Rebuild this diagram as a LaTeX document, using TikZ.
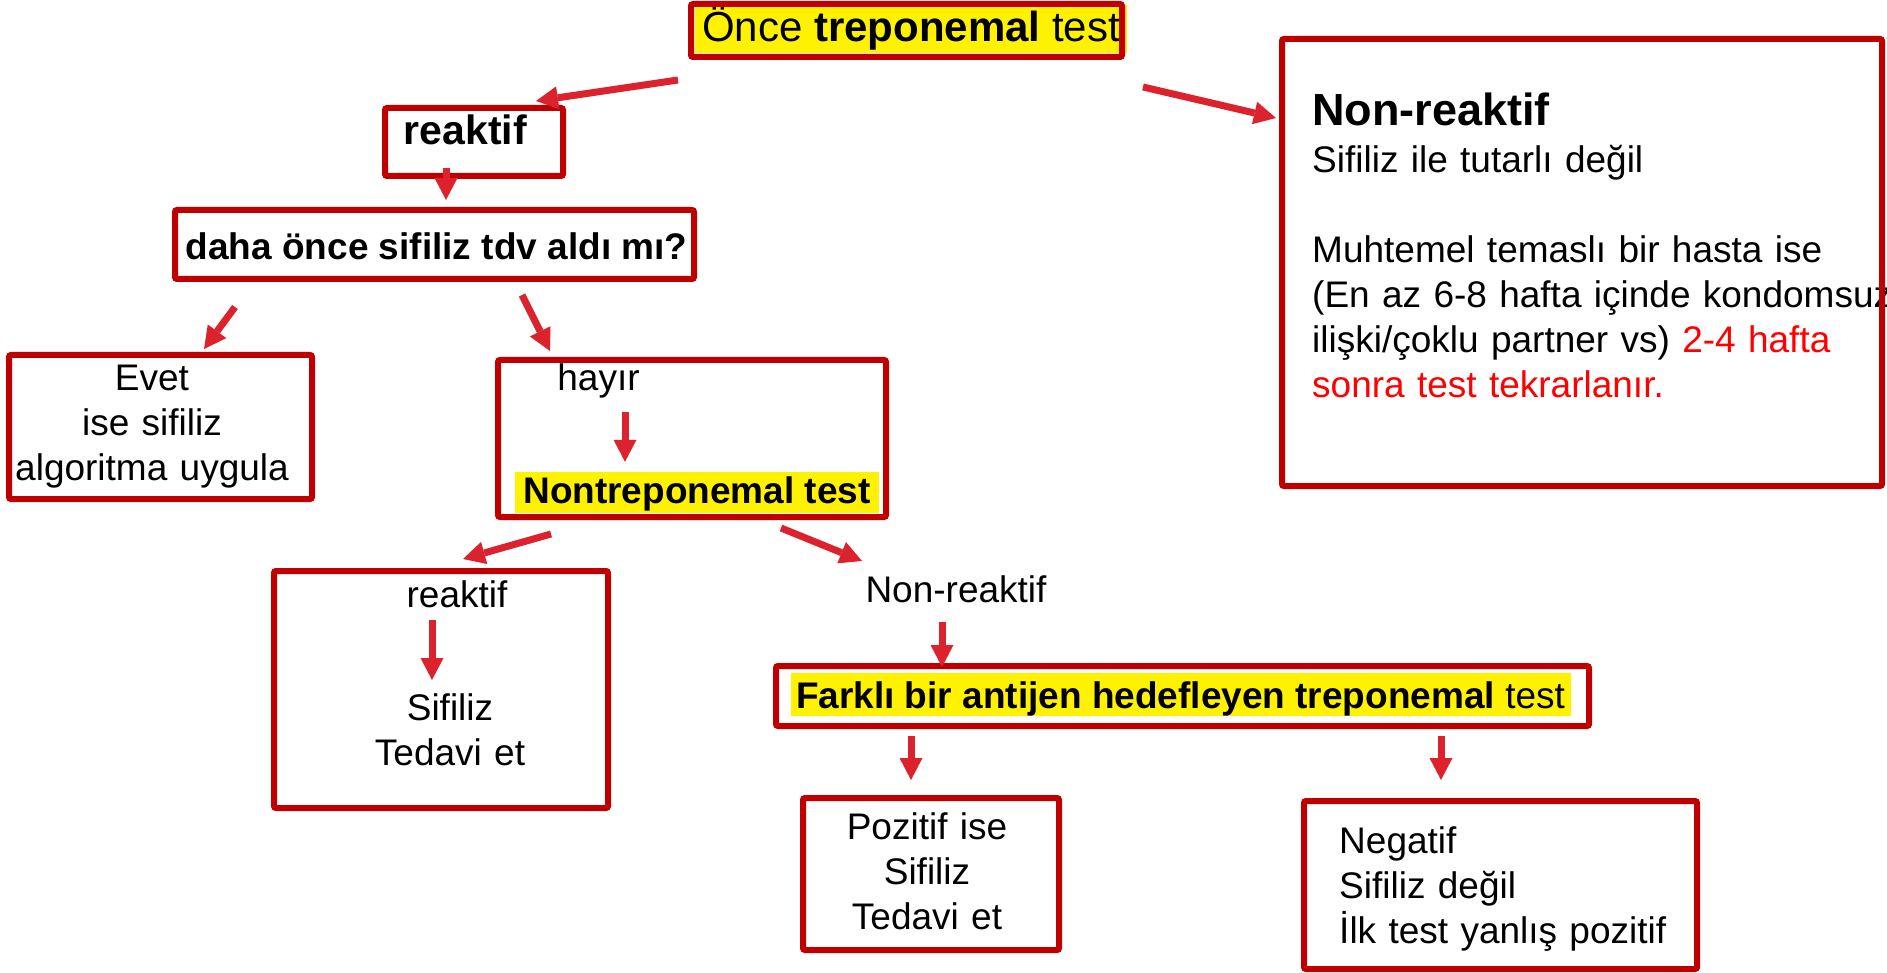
\documentclass[tikz,border=0pt]{standalone}
\usepackage{fontspec}
\setmainfont{Liberation Sans}
\usepackage{xcolor}
\usetikzlibrary{calc,arrows.meta}

\definecolor{boxred}{RGB}{192,0,0}
\definecolor{arrred}{RGB}{220,35,45}

\begin{document}
\begin{tikzpicture}[x=1pt,y=-1pt,
    box/.style={draw=boxred, line width=6pt, rounded corners=2pt, inner sep=0pt},
    arr/.style={draw=arrred, line width=7pt, -{Triangle[width=23pt,length=22pt,line width=0pt]}},
    txt/.style={inner sep=0pt, font=\fontsize{37pt}{45pt}\selectfont, text height=28pt, text depth=8pt},
    lines/.style={inner sep=0pt, font=\fontsize{37pt}{45pt}\selectfont},
    hl/.style={fill=yellow}]

    \useasboundingbox (0,0) rectangle (1887,973);

    % Texts
    \node[txt, hl, font=\fontsize{42pt}{50pt}\selectfont, text height=37pt, text depth=11pt,
      inner xsep=7.5pt, anchor=base] (toptxt) at (911,42) {Önce \textbf{treponemal} test};
    \node[txt, font=\bfseries\fontsize{41pt}{49pt}\selectfont, anchor=base] (reaktxt) at (465.5,145) {reaktif};
    \node[txt, font=\bfseries\fontsize{37pt}{45pt}\selectfont, anchor=base] (dahatxt) at (436.5,260)
      {daha önce sifiliz tdv aldı mı?};
    \node[lines, text width=300pt, align=center, anchor=base] (evettxt) at (152,390)
      {Evet\\ise sifiliz\\algoritma uygula};
    \node[txt, anchor=base] (hayirtxt) at (598.5,390) {hayır};
    \node[txt, hl, font=\bfseries\fontsize{37pt}{45pt}\selectfont, text height=31pt, text depth=10pt,
      inner xsep=8pt, anchor=base] (ntt) at (697,503) {Nontreponemal test};
    \node[txt, anchor=base] (r2a) at (457,607) {reaktif};
    \node[lines, text width=300pt, align=center, anchor=base] (r2b) at (450,720) {Sifiliz\\Tedavi et};
    \node[txt, anchor=base] (nrlbl) at (956,602) {Non-reaktif};
    \node[txt, hl, text height=35pt, text depth=8pt, inner xsep=5.5pt, anchor=base] (farktxt) at (1180.5,708)
      {\textbf{Farklı bir antijen hedefleyen treponemal} test};
    \node[lines, text width=250pt, align=center, anchor=base] (poztxt) at (927,839)
      {Pozitif ise\\Sifiliz\\Tedavi et};
    \node[lines, text width=360pt, align=left, anchor=base west] (negtxt) at (1339,853)
      {Negatif\\Sifiliz değil\\İlk test yanlış pozitif};
    \node[txt, font=\bfseries\fontsize{45pt}{54pt}\selectfont, anchor=base west] (nrhead) at (1312,126) {Non-reaktif};
    \node[lines, text width=600pt, align=left, anchor=base west] (nrbody) at (1312,173)
      {Sifiliz ile tutarlı değil\\[45pt]Muhtemel temaslı bir hasta ise\\(En az 6-8 hafta içinde kondomsuz\\%
       ilişki/çoklu partner vs) \textcolor{red}{2-4 hafta}\\\textcolor{red}{sonra test tekrarlanır.}};

    % Boxes
    \node[box, minimum width=431pt, minimum height=53pt] (top) at (906.5,30.5) {};
    \node[box, minimum width=178pt, minimum height=68pt] (reak) at (474,142) {};
    \node[box, minimum width=519pt, minimum height=69pt] (daha) at (434.5,244.5) {};
    \node[box, minimum width=303pt, minimum height=144pt] (evet) at (160.5,427) {};
    \node[box, minimum width=388pt, minimum height=157pt] (hayir) at (692,438.5) {};
    \node[box, minimum width=334pt, minimum height=237pt] (reak2) at (441,689.5) {};
    \node[box, minimum width=813pt, minimum height=60pt] (farkli) at (1182.5,696) {};
    \node[box, minimum width=256pt, minimum height=152pt] (poz) at (931,874) {};
    \node[box, minimum width=393pt, minimum height=168pt] (neg) at (1500.5,885) {};
    \node[box, minimum width=600pt, minimum height=447pt] (nonr) at (1582,262.5) {};

    % Arrows
    \draw[arr] ($(top.south west)+(-10,20)$) -- ($(reak.north east)+(-30,-4)$);
    \draw[arr] ($(top.south east)+(18,27)$) -- ($(nonr.north west)+(-3,82)$);
    \draw[arr] ($(reak.south)+(-28,-11)$) -- ($(daha.north)+(11.5,-7)$);
    \draw[arr] ($(daha.south west)+(63,25)$) -- ($(evet.north)+(43.5,-3)$);
    \draw[arr] ($(daha.south)+(87.5,13)$) -- ($(hayir.north west)+(55,-6)$);
    \draw[arr] ($(hayirtxt.base)+(26.5,22)$) -- ($(ntt.north)+(-72,-10)$);
    \draw[arr] ($(hayir.south)+(-141,14)$) -- ($(reak2.north)+(22,-9)$);
    \draw[arr] ($(hayir.south)+(89,8)$) -- ($(nrlbl.base)+(-94,-41)$);
    \draw[arr] ($(r2a.base)+(-25,13)$) -- ($(r2b.base)+(-18,-40)$);
    \draw[arr] ($(nrlbl.base)+(-14,20)$) -- ($(farkli.north)+(-240.5,4)$);
    \draw[arr] ($(farkli.south)+(-271.5,7)$) -- ($(poz.north)+(-20,-15)$);
    \draw[arr] ($(farkli.south)+(258.5,7)$) -- ($(neg.north)+(-59.5,-18)$);

\end{tikzpicture}
\end{document}
